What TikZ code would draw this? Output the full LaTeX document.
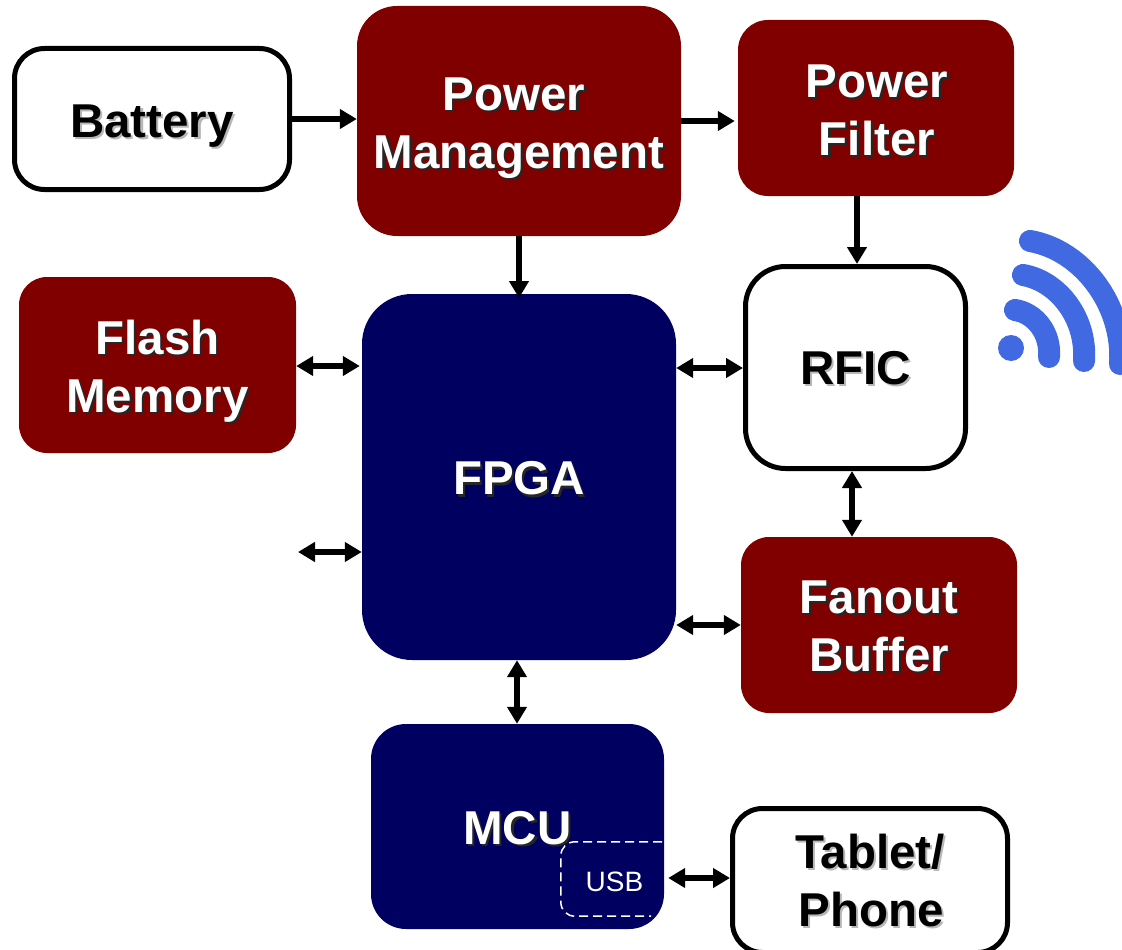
\documentclass[tikz,border=0pt]{standalone}
\usepackage{fontspec}
\setmainfont{Liberation Sans}
\usetikzlibrary{arrows.meta}
\definecolor{maroonbox}{RGB}{128,0,0}
\definecolor{navybox}{RGB}{0,0,96}
\definecolor{wifiblue}{RGB}{65,105,225}
\newcommand{\drop}[1]{\rule{0pt}{\dimexpr34.6pt+#1pt*2\relax}}
\newcommand{\shw}[2]{\leavevmode\rlap{\kern2.2pt\raisebox{-2.2pt}{\textcolor{#1}{#2}}}#2}
\newcommand{\shb}[1]{\shw{black!28}{#1}}
\newcommand{\shn}[1]{\shw{black!85}{#1}}
\tikzset{
  x=1pt,y=-1pt,
  label font/.style={font=\fontsize{47.5}{58}\selectfont\bfseries,align=center,inner sep=0pt},
  whitebox/.style={draw=black,line width=5pt,fill=white,text=black,label font,rectangle},
  redbox/.style={fill=maroonbox,text=white,label font,rectangle},
  bluebox/.style={fill=navybox,text=white,label font,rectangle},
  one way/.style={line width=6pt,-{Triangle[length=17pt,width=19pt]}},
  two way/.style={line width=6pt,{Triangle[length=17pt,width=19pt]}-{Triangle[length=17pt,width=19pt]}},
  wifi arc/.style={wifiblue,line width=22pt,line cap=round},
}
\begin{document}
\begin{tikzpicture}
\useasboundingbox (0,0) rectangle (1122,950);
\node[whitebox,rounded corners=30pt,minimum width=275pt,minimum height=141pt] (battery) at (152,119) {\drop{7}\shb{Battery}};
\node[redbox,rounded corners=40pt,minimum width=324pt,minimum height=230pt] (pm) at (519,121) {\drop{7}\shn{Power}\kern10pt\\\shn{Management}};
\node[redbox,rounded corners=30pt,minimum width=276pt,minimum height=176pt] (filter) at (876,108) {\drop{2.5}\kern2pt\shn{Power}\\\kern2pt\shn{Filter}};
\node[redbox,rounded corners=28pt,minimum width=277pt,minimum height=176pt] (flash) at (157.5,365) {\drop{7}\shn{Flash}\\\shn{Memory}};
\node[bluebox,rounded corners=50pt,minimum width=314pt,minimum height=366pt] (fpga) at (519,477) {\drop{2}\shn{FPGA}};
\node[whitebox,rounded corners=40pt,minimum width=220pt,minimum height=202pt] (rfic) at (855.5,367.5) {\drop{1}\shb{RFIC}};
\node[redbox,rounded corners=28pt,minimum width=276pt,minimum height=176pt] (fanout) at (879,625) {\drop{1.5}\shn{Fanout}\\\shn{Buffer}};
\node[bluebox,rounded corners=35pt,minimum width=293pt,minimum height=205pt] (mcu) at (517.5,826.5) {\drop{2}\shn{MCU}};
\node[whitebox,rounded corners=30pt,minimum width=275pt,minimum height=144pt] (tablet) at (870,880.5) {\drop{1}\shb{Tablet/}\\\kern2pt\shb{Phone}};
\node[rectangle,minimum width=101pt,minimum height=74pt,text=white,font=\fontsize{28}{32}\selectfont,inner sep=0pt] (usb) at (611.5,879) {\kern6pt\raisebox{-3pt}[\height][\depth]{USB}};
\draw[white,line width=1.5pt,dash pattern=on 9pt off 5pt,rounded corners=14pt] (usb.north east) -- (usb.north west) -- (usb.south west) -- ([xshift=-11pt]usb.south east);
\coordinate (free) at (298,552);
\coordinate (fpgaTop) at (519,298);
\draw[one way] (battery.east) -- (pm.west |- battery.east);
\draw[one way] (pm.east |- 0,121) -- ([xshift=-3pt]filter.west |- 0,121);
\draw[one way] (pm.south) -- (fpgaTop);
\draw[one way] (filter.south -| 857,0) -- (rfic.north -| 857,0);
\draw[two way] (flash.east |- 0,366) -- ([xshift=-2pt]fpga.west |- 0,366);
\draw[two way] (free) -- (fpga.west |- free);
\draw[two way] (fpga.east |- 0,368) -- (rfic.west |- 0,368);
\draw[two way] (rfic.south -| 852,0) -- (fanout.north -| 852,0);
\draw[two way] (fpga.east |- 0,625) -- (fanout.west |- 0,625);
\draw[two way] (fpga.south -| 517,0) -- (mcu.north -| 517,0);
\draw[two way] (usb.east |- 0,878) ++(6,0) -- (tablet.west |- 0,878);
\fill[wifiblue] (1011,348) circle (13pt);
\draw[wifi arc] (1015,310) .. controls (1035,313) and (1051,333) .. (1049,357);
\draw[wifi arc] (1023,275) .. controls (1058,281) and (1087,318) .. (1084,361);
\draw[wifi arc] (1030,241) .. controls (1082,250) and (1124,305) .. (1120,364);
\end{tikzpicture}
\end{document}
